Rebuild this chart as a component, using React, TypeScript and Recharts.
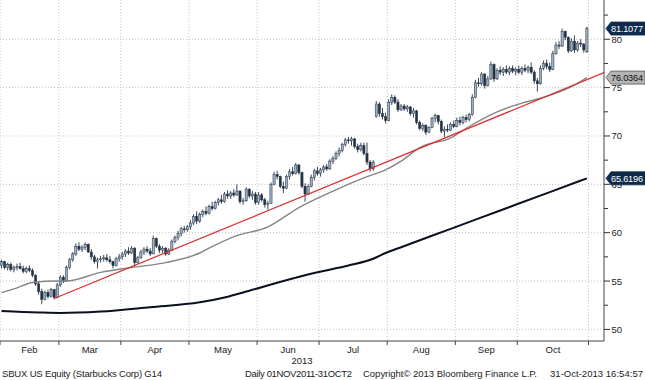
import { ComposedChart, Bar, Line, XAxis, YAxis, CartesianGrid } from "recharts";

const FONT = "'Liberation Sans', Arial, sans-serif";

const MONTHS = ["Feb", "Mar", "Apr", "May", "Jun", "Jul", "Aug", "Sep", "Oct"];
// trading-day index where each month starts (last entry = 1 Nov)
const MONTH_START = [0, 19, 39, 61, 83, 103, 125, 147, 167, 190];
const SLOTS = 195;

// daily open, high, low, close, 1 Feb .. 31 Oct 2013
const OHLC: number[][] = [
  // Feb
  [56.6, 57.2, 56.3, 57.0], [57.0, 57.1, 56.2, 56.4], [56.4, 56.9, 56.1, 56.7], [56.7, 56.9, 56.0, 56.2],
  [56.2, 56.6, 55.9, 56.4], [56.4, 56.8, 56.1, 56.5], [56.5, 56.9, 56.2, 56.3], [56.3, 56.6, 55.8, 56.0],
  [56.0, 56.5, 55.8, 56.3], [56.3, 56.6, 55.9, 56.1], [56.1, 56.3, 55.4, 55.6], [55.6, 55.7, 54.5, 54.7],
  [54.7, 55.0, 53.6, 53.9], [53.9, 54.2, 52.6, 53.1], [53.1, 54.0, 53.0, 53.8], [53.8, 54.1, 53.2, 53.4],
  [53.4, 54.3, 53.3, 54.1], [54.1, 54.2, 53.1, 53.3], [53.3, 54.8, 53.2, 54.6],
  // Mar
  [54.6, 55.6, 54.4, 55.4], [55.4, 55.6, 54.8, 55.0], [55.0, 56.6, 54.9, 56.4], [56.4, 57.4, 56.2, 57.2],
  [57.2, 58.0, 57.0, 57.8], [57.8, 58.9, 57.6, 58.6], [58.6, 59.0, 58.1, 58.3], [58.3, 58.7, 58.0, 58.5],
  [58.5, 59.0, 58.2, 58.8], [58.8, 58.9, 57.9, 58.0], [58.0, 58.3, 57.2, 57.5], [57.5, 57.7, 56.8, 57.0],
  [57.0, 57.4, 56.3, 57.2], [57.2, 57.6, 56.9, 57.3], [57.3, 57.7, 57.0, 57.4], [57.4, 57.8, 57.0, 57.2],
  [57.2, 57.6, 56.8, 57.0], [57.0, 57.1, 56.3, 56.6], [56.6, 57.5, 56.5, 57.3], [57.3, 57.8, 57.0, 57.5],
  // Apr
  [57.5, 58.0, 57.2, 57.8], [57.8, 58.3, 57.5, 58.1], [58.1, 58.5, 57.7, 57.9], [57.9, 58.6, 57.8, 58.4],
  [58.4, 58.5, 56.5, 56.9], [56.9, 57.6, 56.8, 57.4], [57.4, 58.2, 57.3, 58.0], [58.0, 58.5, 57.7, 58.3],
  [58.3, 58.6, 57.9, 58.1], [58.1, 58.4, 57.6, 57.8], [57.8, 59.7, 57.8, 59.4], [59.4, 59.5, 58.4, 58.6],
  [58.6, 58.8, 57.9, 58.2], [58.2, 58.6, 57.9, 58.4], [58.4, 58.5, 57.6, 57.8], [57.8, 58.4, 57.7, 58.2],
  [58.2, 59.3, 58.1, 59.1], [59.1, 59.7, 58.9, 59.5], [59.5, 60.2, 59.2, 59.9], [59.9, 60.6, 59.6, 60.4],
  [60.4, 60.7, 60.0, 60.3], [60.3, 60.8, 60.1, 60.6],
  // May
  [60.6, 61.3, 60.3, 61.0], [61.0, 61.9, 60.8, 61.7], [61.7, 62.2, 60.9, 61.2], [61.2, 62.1, 61.0, 61.9],
  [61.9, 62.4, 61.6, 62.2], [62.2, 62.7, 61.8, 62.0], [62.0, 62.9, 61.9, 62.7], [62.7, 63.2, 62.3, 62.5],
  [62.5, 63.3, 62.4, 63.1], [63.1, 63.6, 62.8, 63.4], [63.4, 63.9, 63.0, 63.2], [63.2, 64.2, 63.1, 64.0],
  [64.0, 64.4, 63.5, 63.8], [63.8, 64.3, 63.5, 64.1], [64.1, 64.5, 63.7, 63.9], [63.9, 65.0, 63.8, 64.3],
  [64.3, 64.4, 63.0, 63.2], [63.2, 63.6, 62.9, 63.3], [63.3, 64.7, 63.2, 64.5], [64.5, 64.6, 63.6, 63.8],
  [63.8, 64.3, 63.4, 64.0], [64.0, 64.2, 62.9, 63.1],
  // Jun
  [63.1, 64.2, 62.9, 63.9], [63.9, 64.1, 63.2, 63.4], [63.4, 63.6, 62.6, 62.9], [62.9, 63.3, 62.4, 63.0],
  [63.0, 65.2, 63.0, 65.0], [65.0, 66.3, 64.9, 66.0], [66.0, 66.4, 65.5, 65.8], [65.8, 65.9, 64.6, 64.8],
  [64.8, 65.3, 64.1, 64.6], [64.6, 66.0, 64.5, 65.8], [65.8, 66.6, 65.5, 66.3], [66.3, 66.8, 65.9, 66.1],
  [66.1, 67.2, 66.0, 67.0], [67.0, 67.1, 66.0, 66.2], [66.2, 66.3, 64.6, 64.8], [64.8, 65.1, 63.2, 64.0],
  [64.0, 65.0, 63.9, 64.8], [64.8, 66.0, 64.7, 65.7], [65.7, 66.6, 65.4, 66.4], [66.4, 66.8, 65.9, 66.1],
  // Jul
  [66.1, 66.7, 65.8, 66.5], [66.5, 67.0, 66.2, 66.8], [66.8, 67.1, 66.4, 66.6], [66.6, 67.6, 66.5, 67.4],
  [67.4, 67.9, 67.1, 67.7], [67.7, 68.4, 67.5, 68.2], [68.2, 68.8, 67.9, 68.5], [68.5, 69.3, 68.3, 69.1],
  [69.1, 69.8, 68.9, 69.6], [69.6, 69.9, 69.2, 69.5], [69.5, 69.9, 69.0, 69.7], [69.7, 69.8, 68.7, 68.9],
  [68.9, 69.2, 68.3, 68.6], [68.6, 69.3, 68.4, 69.0], [69.0, 69.3, 68.0, 68.2], [68.2, 69.3, 67.0, 67.3],
  [67.3, 67.5, 66.3, 66.6], [66.6, 67.5, 66.4, 67.3], [72.0, 73.6, 71.9, 73.3], [73.3, 73.5, 72.0, 72.3],
  [72.3, 72.9, 71.7, 72.0], [72.0, 72.4, 71.3, 71.6],
  // Aug
  [71.6, 73.8, 71.5, 73.5], [73.5, 74.3, 73.2, 74.0], [74.0, 74.2, 73.3, 73.5], [73.5, 73.8, 72.5, 72.7],
  [72.7, 73.3, 72.6, 73.1], [73.1, 73.3, 72.6, 72.8], [72.8, 73.2, 72.5, 73.0], [73.0, 73.1, 72.1, 72.3],
  [72.3, 72.9, 71.9, 72.6], [72.6, 72.7, 71.2, 71.4], [71.4, 71.6, 70.6, 70.8], [70.8, 71.3, 70.5, 71.1],
  [71.1, 71.2, 70.1, 70.4], [70.4, 71.0, 70.3, 70.9], [70.9, 72.0, 70.8, 71.8], [71.8, 72.3, 71.4, 72.1],
  [72.1, 72.2, 71.2, 71.5], [71.5, 71.7, 70.3, 70.5], [70.5, 71.0, 69.9, 70.7], [70.7, 71.2, 70.4, 70.6],
  [70.6, 71.4, 70.5, 71.2], [71.2, 71.6, 70.8, 71.0],
  // Sep
  [71.0, 71.9, 70.9, 71.6], [71.6, 72.0, 71.1, 71.4], [71.4, 72.1, 71.2, 71.9], [71.9, 72.2, 71.4, 71.7],
  [71.7, 72.4, 71.5, 72.2], [72.2, 74.3, 72.1, 74.0], [74.0, 75.8, 73.9, 75.5], [75.5, 76.0, 75.1, 75.4],
  [75.4, 76.6, 75.2, 76.4], [76.4, 76.5, 74.9, 75.2], [75.2, 76.2, 75.1, 75.9], [75.9, 77.7, 75.8, 77.4],
  [77.4, 77.5, 75.6, 75.9], [75.9, 77.0, 75.8, 76.8], [76.8, 77.2, 76.3, 76.6], [76.6, 77.1, 76.2, 76.9],
  [76.9, 77.3, 76.4, 76.6], [76.6, 77.2, 76.3, 77.0], [77.0, 77.3, 76.5, 76.7], [76.7, 77.1, 76.3, 76.9],
  // Oct
  [76.9, 77.3, 76.4, 76.6], [76.6, 77.2, 76.3, 77.0], [77.0, 77.4, 76.6, 76.8], [76.8, 77.3, 76.5, 77.1],
  [77.1, 77.6, 76.4, 76.6], [76.6, 76.8, 75.4, 75.7], [75.7, 76.0, 74.6, 75.4], [75.4, 77.3, 75.3, 77.0],
  [77.0, 77.8, 76.8, 77.5], [77.5, 77.9, 76.9, 77.2], [77.2, 77.6, 76.6, 76.9], [76.9, 78.8, 76.8, 78.5],
  [78.5, 79.7, 78.4, 79.4], [79.4, 79.8, 79.0, 79.3], [79.3, 81.1, 79.2, 80.8], [80.8, 80.9, 79.9, 80.2],
  [80.2, 80.3, 78.6, 78.8], [78.8, 80.1, 78.7, 79.8], [79.8, 80.4, 78.6, 78.9], [78.9, 79.8, 78.7, 79.6],
  [79.6, 80.0, 79.2, 79.5], [79.5, 79.6, 78.6, 78.9], [78.7, 81.3, 78.6, 81.1077],
];

// 50-day moving average (grey), read at a few days
const MA50_DAY = [0, 5, 10, 18, 21, 32, 42, 53, 64, 67, 75, 86, 96, 107, 118, 124, 129, 135, 145, 150, 160, 168, 174, 184, 189];
const MA50 = [53.8, 54.3, 54.85, 55.0, 55.0, 55.9, 56.4, 56.9, 57.9, 58.4, 59.6, 60.6, 62.6, 64.3, 65.8, 66.5, 67.4, 68.8, 69.8, 70.8, 72.5, 73.4, 73.9, 75.1, 76.0364];

// 200-day moving average (black)
const MA200_DAY = [0, 12, 19, 32, 48, 64, 72, 80, 91, 102, 112, 120, 124, 129, 145, 161, 177, 189];
const MA200 = [51.9, 51.75, 51.7, 51.85, 52.3, 52.8, 53.3, 54.0, 55.0, 55.9, 56.6, 57.3, 57.9, 58.5, 60.4, 62.3, 64.2, 65.6196];

// red trend line
const TREND_DAY = [17, 194.5];
const TREND = [53.2, 76.55];

const Y_TICKS = [50, 52.5, 55, 57.5, 60, 62.5, 65, 67.5, 70, 72.5, 75, 77.5, 80, 82.5];
const Y_GRID = [50, 55, 60, 65, 70, 75, 80];
const LAST_VALUES = [81.1077, 76.0364, 65.6196];

const rows = OHLC.map(([o, h, l, c], i) => ({ t: i + 0.5, o, h, l, c, hl: [l, h] }));
const ma50 = MA50_DAY.map((d, i) => ({ t: d + 0.5, v: MA50[i] }));
const ma200 = MA200_DAY.map((d, i) => ({ t: d + 0.5, v: MA200[i] }));
const trend = TREND_DAY.map((d, i) => ({ t: d + 0.5, v: TREND[i] }));
const monthMid = MONTHS.map((_, i) => (MONTH_START[i] + MONTH_START[i + 1]) / 2);

const INK = "#243244";

function Candle(props: any) {
  const { x, y, width, height, payload } = props;
  const { o, h, l, c } = payload;
  const top = Math.min(y, y + height);
  const span = Math.abs(height);
  const cx = x + width / 2;
  const k = span / (h - l || 1);
  const b1 = top + (h - Math.max(o, c)) * k;
  const b2 = top + (h - Math.min(o, c)) * k;
  const up = c >= o;
  return (
    <g>
      <line x1={cx} x2={cx} y1={top} y2={top + span} stroke={INK} strokeWidth={0.9} />
      <rect
        x={cx - 1.1}
        y={b1}
        width={2.2}
        height={Math.max(b2 - b1, 0.8)}
        fill={up ? "#9fb0c4" : INK}
        stroke={INK}
        strokeWidth={0.5}
      />
    </g>
  );
}

// badge colours for the three last-value markers
const BADGE = [
  { fill: "#0f2a4a", text: "#ffffff" },
  { fill: "#b4b4b4", text: "#111111" },
  { fill: "#0f2a4a", text: "#ffffff" },
];

function PriceTick(props: any) {
  const { x, y, payload } = props;
  const v = payload.value;
  const bi = LAST_VALUES.indexOf(v);
  if (bi >= 0) {
    const s = BADGE[bi];
    return (
      <g>
        <path
          d={`M${x + 2},${y} L${x + 7},${y - 6.5} L${x + 41},${y - 6.5} L${x + 41},${y + 6.5} L${x + 7},${y + 6.5} Z`}
          fill={s.fill}
          stroke={bi === 1 ? "#555" : s.fill}
          strokeWidth={0.8}
        />
        <text x={x + 7} y={y + 3.3} fontSize={9.2} fill={s.text} fontFamily={FONT} textLength={32}>
          {String(v)}
        </text>
      </g>
    );
  }
  const major = v % 5 === 0;
  return (
    <g>
      <line x1={x} x2={x + (major ? 6 : 4)} y1={y} y2={y} stroke="#333" strokeWidth={1} />
      {major && (
        <text x={x + 7.5} y={y + 3.5} fontSize={9.5} fill="#222" fontFamily={FONT}>
          {v}
        </text>
      )}
    </g>
  );
}

export default function App() {
  return (
    <div style={{ position: "fixed", left: 0, top: 0, width: 645, height: 380, background: "#fff" }}>
      <ComposedChart
        width={645}
        height={380}
        data={rows}
        margin={{ top: 0, right: 0, bottom: 19, left: 0 }}
        style={{ fontFamily: FONT }}
      >
        <CartesianGrid
          stroke="#c4c4c4"
          strokeDasharray="1 2"
          horizontalValues={Y_GRID}
          verticalValues={MONTH_START}
        />
        <XAxis
          type="number"
          dataKey="t"
          domain={[0, SLOTS]}
          allowDataOverflow
          ticks={MONTH_START}
          interval={0}
          tickFormatter={() => ""}
          tickSize={4}
          tickLine={{ stroke: "#444" }}
          axisLine={{ stroke: "#444" }}
          height={4}
        />
        <XAxis
          xAxisId="m"
          type="number"
          dataKey="t"
          domain={[0, SLOTS]}
          allowDataOverflow
          ticks={monthMid}
          interval={0}
          tickFormatter={(v: number) => MONTHS[monthMid.indexOf(v)] ?? ""}
          axisLine={false}
          tickLine={false}
          tickSize={0}
          tickMargin={1}
          tick={{ fontSize: 9.5, fill: "#222" }}
          height={16}
        />
        <YAxis
          orientation="right"
          type="number"
          domain={[48.8, 84.06]}
          allowDataOverflow
          ticks={[...Y_TICKS, ...LAST_VALUES]}
          interval={0}
          tick={(p: any) => <PriceTick {...p} />}
          tickLine={false}
          tickSize={0}
          tickMargin={0}
          axisLine={{ stroke: "#444" }}
          width={41}
        />
        <Line data={ma200} dataKey="v" type="monotone" stroke="#0b1020" strokeWidth={2} dot={false} activeDot={false} isAnimationActive={false} />
        <Line data={ma50} dataKey="v" type="monotone" stroke="#858585" strokeWidth={1.4} dot={false} activeDot={false} isAnimationActive={false} />
        <Line data={trend} dataKey="v" type="linear" stroke="#dd2b2b" strokeWidth={1.2} dot={false} activeDot={false} isAnimationActive={false} />
        <Bar dataKey="hl" barSize={3} shape={(p: any) => <Candle {...p} />} activeBar={false} isAnimationActive={false} />
      </ComposedChart>
      <svg width={645} height={380} style={{ position: "absolute", left: 0, top: 0, pointerEvents: "none" }}>
        <g fontFamily={FONT} fontSize={9.5} fill="#222">
          <text x={302} y={364} textAnchor="middle">2013</text>
          <text x={2} y={377} textLength={160}>SBUX US Equity (Starbucks Corp) G14</text>
          <text x={245} y={377} textLength={107}>Daily 01NOV2011-31OCT2</text>
          <text x={363} y={377} textLength={174}>Copyright© 2013 Bloomberg Finance L.P.</text>
          <text x={550} y={377} textLength={93}>31-Oct-2013 16:54:57</text>
        </g>
      </svg>
    </div>
  );
}
